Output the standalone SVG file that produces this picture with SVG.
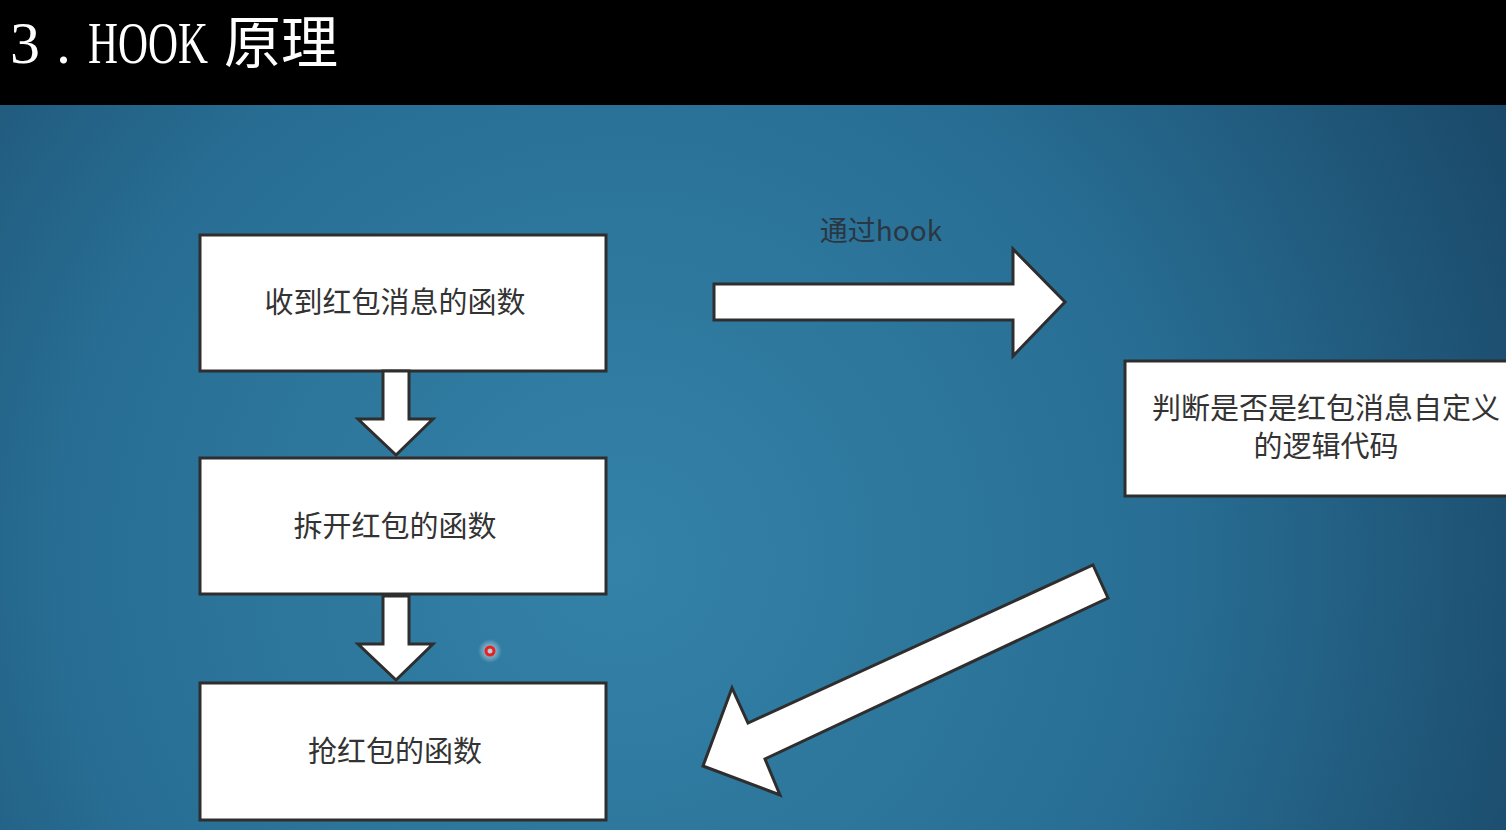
<svg xmlns="http://www.w3.org/2000/svg" width="1506" height="830" viewBox="0 0 1506 830">
<defs>
<radialGradient id="bg" gradientUnits="userSpaceOnUse" cx="620" cy="560" r="1000">
<stop offset="0" stop-color="#3482a8"/>
<stop offset="0.55" stop-color="#286e94"/>
<stop offset="1" stop-color="#1a4868"/>
</radialGradient>
<radialGradient id="glow">
<stop offset="0" stop-color="#ffffff" stop-opacity="0.7"/>
<stop offset="1" stop-color="#ffffff" stop-opacity="0"/>
</radialGradient>
<style>
.box{fill:#ffffff;stroke:#2e2e2e;stroke-width:3}
.arr{fill:#ffffff;stroke:#2e2e2e;stroke-width:3;stroke-linejoin:miter}
.lbl{font-family:"Noto Sans CJK SC","Noto Sans",sans-serif;font-size:29px;fill:#333333;text-anchor:middle}
</style>
</defs>
<rect x="0" y="0" width="1506" height="830" fill="url(#bg)"/>
<rect x="0" y="0" width="1506" height="105" fill="#000000"/>
<g id="title">
<text y="63" fill="#ffffff" font-size="60" font-family="'Liberation Serif','Noto Sans CJK SC',serif"><tspan x="10">3</tspan><tspan x="56">.</tspan><tspan x="88" textLength="120" lengthAdjust="spacingAndGlyphs">HOOK</tspan><tspan x="224" font-size="57">原理</tspan></text>
</g>
<g id="n1"><rect class="box" x="200" y="235" width="406" height="136"/><text class="lbl" x="395" y="313">收到红包消息的函数</text></g>
<g id="n2"><rect class="box" x="200" y="458" width="406" height="136"/><text class="lbl" x="395" y="537">拆开红包的函数</text></g>
<g id="n3"><rect class="box" x="200" y="683" width="406" height="137"/><text class="lbl" x="395" y="762">抢红包的函数</text></g>
<g id="n4"><rect class="box" x="1125" y="361" width="390" height="135"/><text class="lbl" x="1326" y="419" font-size="28">判断是否是红包消息自定义</text><text class="lbl" x="1326" y="457" font-size="28">的逻辑代码</text></g>
<g id="connectors">
<polygon class="arr" points="383,371 409,371 409,419 433,419 396,455 358,419 383,419"/>
<polygon class="arr" points="383,596 409,596 409,644 433,644 396,680 358,644 383,644"/>
<polygon class="arr" points="714,284 1013,284 1013,249 1065,302 1013,356 1013,320 714,320"/>
<polygon class="arr" points="1093,565 1108,598 765,759 780,795 703,766 732,688 748,723"/>
<text x="881" y="241" font-family="'Noto Sans CJK SC','Noto Sans',sans-serif" font-size="28" fill="#2a3742" text-anchor="middle">通过hook</text>
</g>
<circle cx="490" cy="651" r="12" fill="url(#glow)"/>
<circle cx="490" cy="651" r="4" fill="none" stroke="#e8201e" stroke-width="3"/>
</svg>
